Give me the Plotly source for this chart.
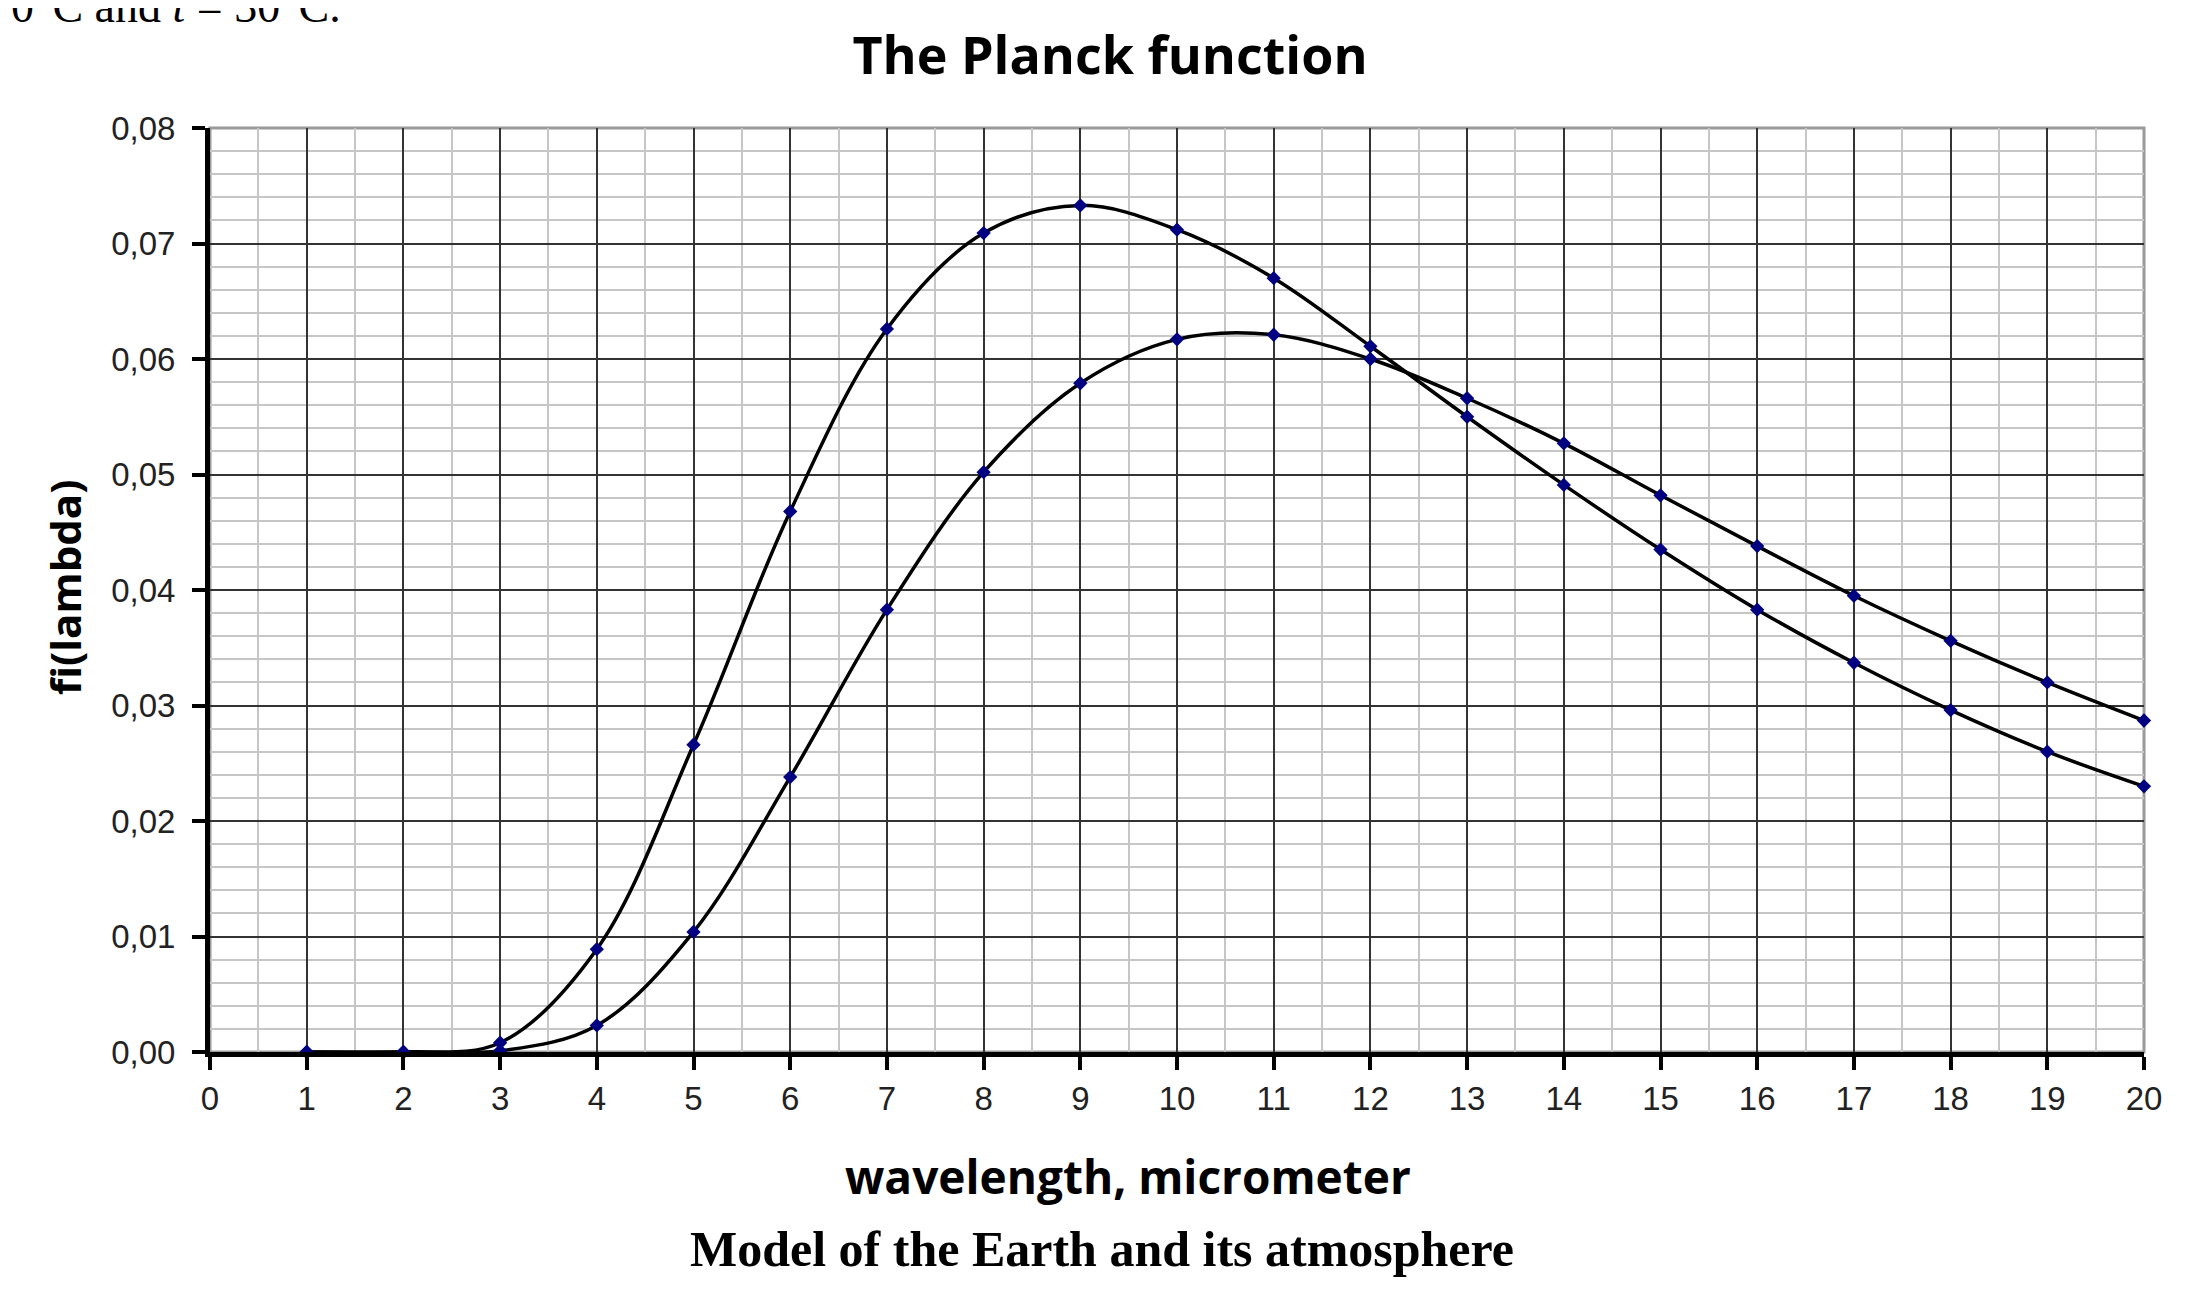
import plotly.graph_objects as go

# wavelength in micrometer and the Planck function values
wavelength = list(range(1, 21))
planck_30c = [0.0, 0.0, 0.0008, 0.0089, 0.0266, 0.0468, 0.0626, 0.0709, 0.0733, 0.0712,
              0.0670, 0.0611, 0.0550, 0.0491, 0.0435, 0.0383, 0.0337, 0.0296, 0.0260, 0.0230]
planck_0c = [0.0, 0.0, 0.0001, 0.0023, 0.0104, 0.0238, 0.0383, 0.0502, 0.0579, 0.0617,
             0.0621, 0.0600, 0.0566, 0.0527, 0.0482, 0.0438, 0.0395, 0.0356, 0.0320, 0.0287]

x_ticks = list(range(0, 21))
y_ticks = [0.0, 0.01, 0.02, 0.03, 0.04, 0.05, 0.06, 0.07, 0.08]

# the page body has an 8px margin, so the figure is a bit smaller than the window
OFF = 8
W, H = 2211 - 2 * OFF, 1306 - 2 * OFF
M_L, M_T = 210 - OFF, 128 - OFF
M_R = W - (2144 - OFF)
M_B = H - (1052 - OFF)
PW, PH = W - M_L - M_R, H - M_T - M_B


def px_x(px):
    # page pixel column -> paper x
    return (px - OFF - M_L) / PW


def px_y(px):
    # page pixel row -> paper y
    return (H - M_B - (px - OFF)) / PH


fig = go.Figure()
for name, values in [("t = 30°C", planck_30c), ("t = 0°C", planck_0c)]:
    fig.add_trace(go.Scatter(
        x=wavelength, y=values, name=name,
        mode="lines+markers",
        line=dict(color="black", width=3.5, shape="spline", smoothing=1.0),
        marker=dict(symbol="diamond", size=11, color="#000080"),
        cliponaxis=False,
    ))

# grey frame on top/right
fig.add_shape(type="rect", xref="paper", yref="paper", x0=0, y0=0, x1=1, y1=1,
              line=dict(color="#9a9a9a", width=3), layer="below")

tick_font = dict(family="Liberation Sans, Arial", size=33, color="#222")
fig.update_xaxes(
    range=[0, 20], tickvals=x_ticks, ticks="outside", ticklen=13, tickwidth=4,
    tickcolor="black", tickfont=tick_font,
    showline=True, linecolor="black", linewidth=5,
    showgrid=True, gridcolor="#333", gridwidth=2, zeroline=False,
    minor=dict(dtick=0.5, showgrid=True, gridcolor="#c6c6c6", gridwidth=2),
)
fig.update_yaxes(
    range=[0, 0.08], tickvals=y_ticks, tickformat=".2f", ticks="outside", ticklen=13,
    tickwidth=4, tickcolor="black", tickfont=tick_font, ticklabelstandoff=10,
    showline=True, linecolor="black", linewidth=5,
    showgrid=True, gridcolor="#333", gridwidth=2, zeroline=False,
    minor=dict(dtick=0.002, showgrid=True, gridcolor="#c6c6c6", gridwidth=2),
)

bold_sans = "Open Sans, Noto Sans, DejaVu Sans"
serif = "Liberation Serif, Times New Roman"
fig.update_layout(
    width=W, height=H,
    margin=dict(l=M_L, r=M_R, t=M_T, b=M_B),
    paper_bgcolor="white", plot_bgcolor="white",
    separators=", ",
    showlegend=False,
    title=dict(text="<b>The Planck function</b>", xref="paper", x=px_x(1110),
               yref="container", y=1 - (56 - OFF) / H, xanchor="center", yanchor="middle",
               font=dict(family=bold_sans, size=52, color="black")),
    annotations=[
        dict(text="<b>wavelength, micrometer</b>", xref="paper", yref="paper",
             x=px_x(1128), y=px_y(1176), xanchor="center", yanchor="middle",
             showarrow=False, font=dict(family=bold_sans, size=46, color="black")),
        dict(text="<b>fi(lambda)</b>", xref="paper", yref="paper", textangle=-90,
             x=px_x(64), y=px_y(588), xanchor="center", yanchor="middle",
             showarrow=False, font=dict(family=bold_sans, size=42, color="black")),
        dict(text="<b>Model of the Earth and its atmosphere</b>", xref="paper", yref="paper",
             x=px_x(1102), y=px_y(1249), xanchor="center", yanchor="middle",
             showarrow=False, font=dict(family=serif, size=50, color="black")),
        # sentence cut off by the top edge of the picture
        dict(text="0°C and <i>t</i> = 30°C.", xref="paper", yref="paper",
             x=px_x(9), y=px_y(34), xanchor="left", yanchor="bottom", showarrow=False,
             font=dict(family=serif, size=46, color="black")),
    ],
)

fig.write_html("out.html")
